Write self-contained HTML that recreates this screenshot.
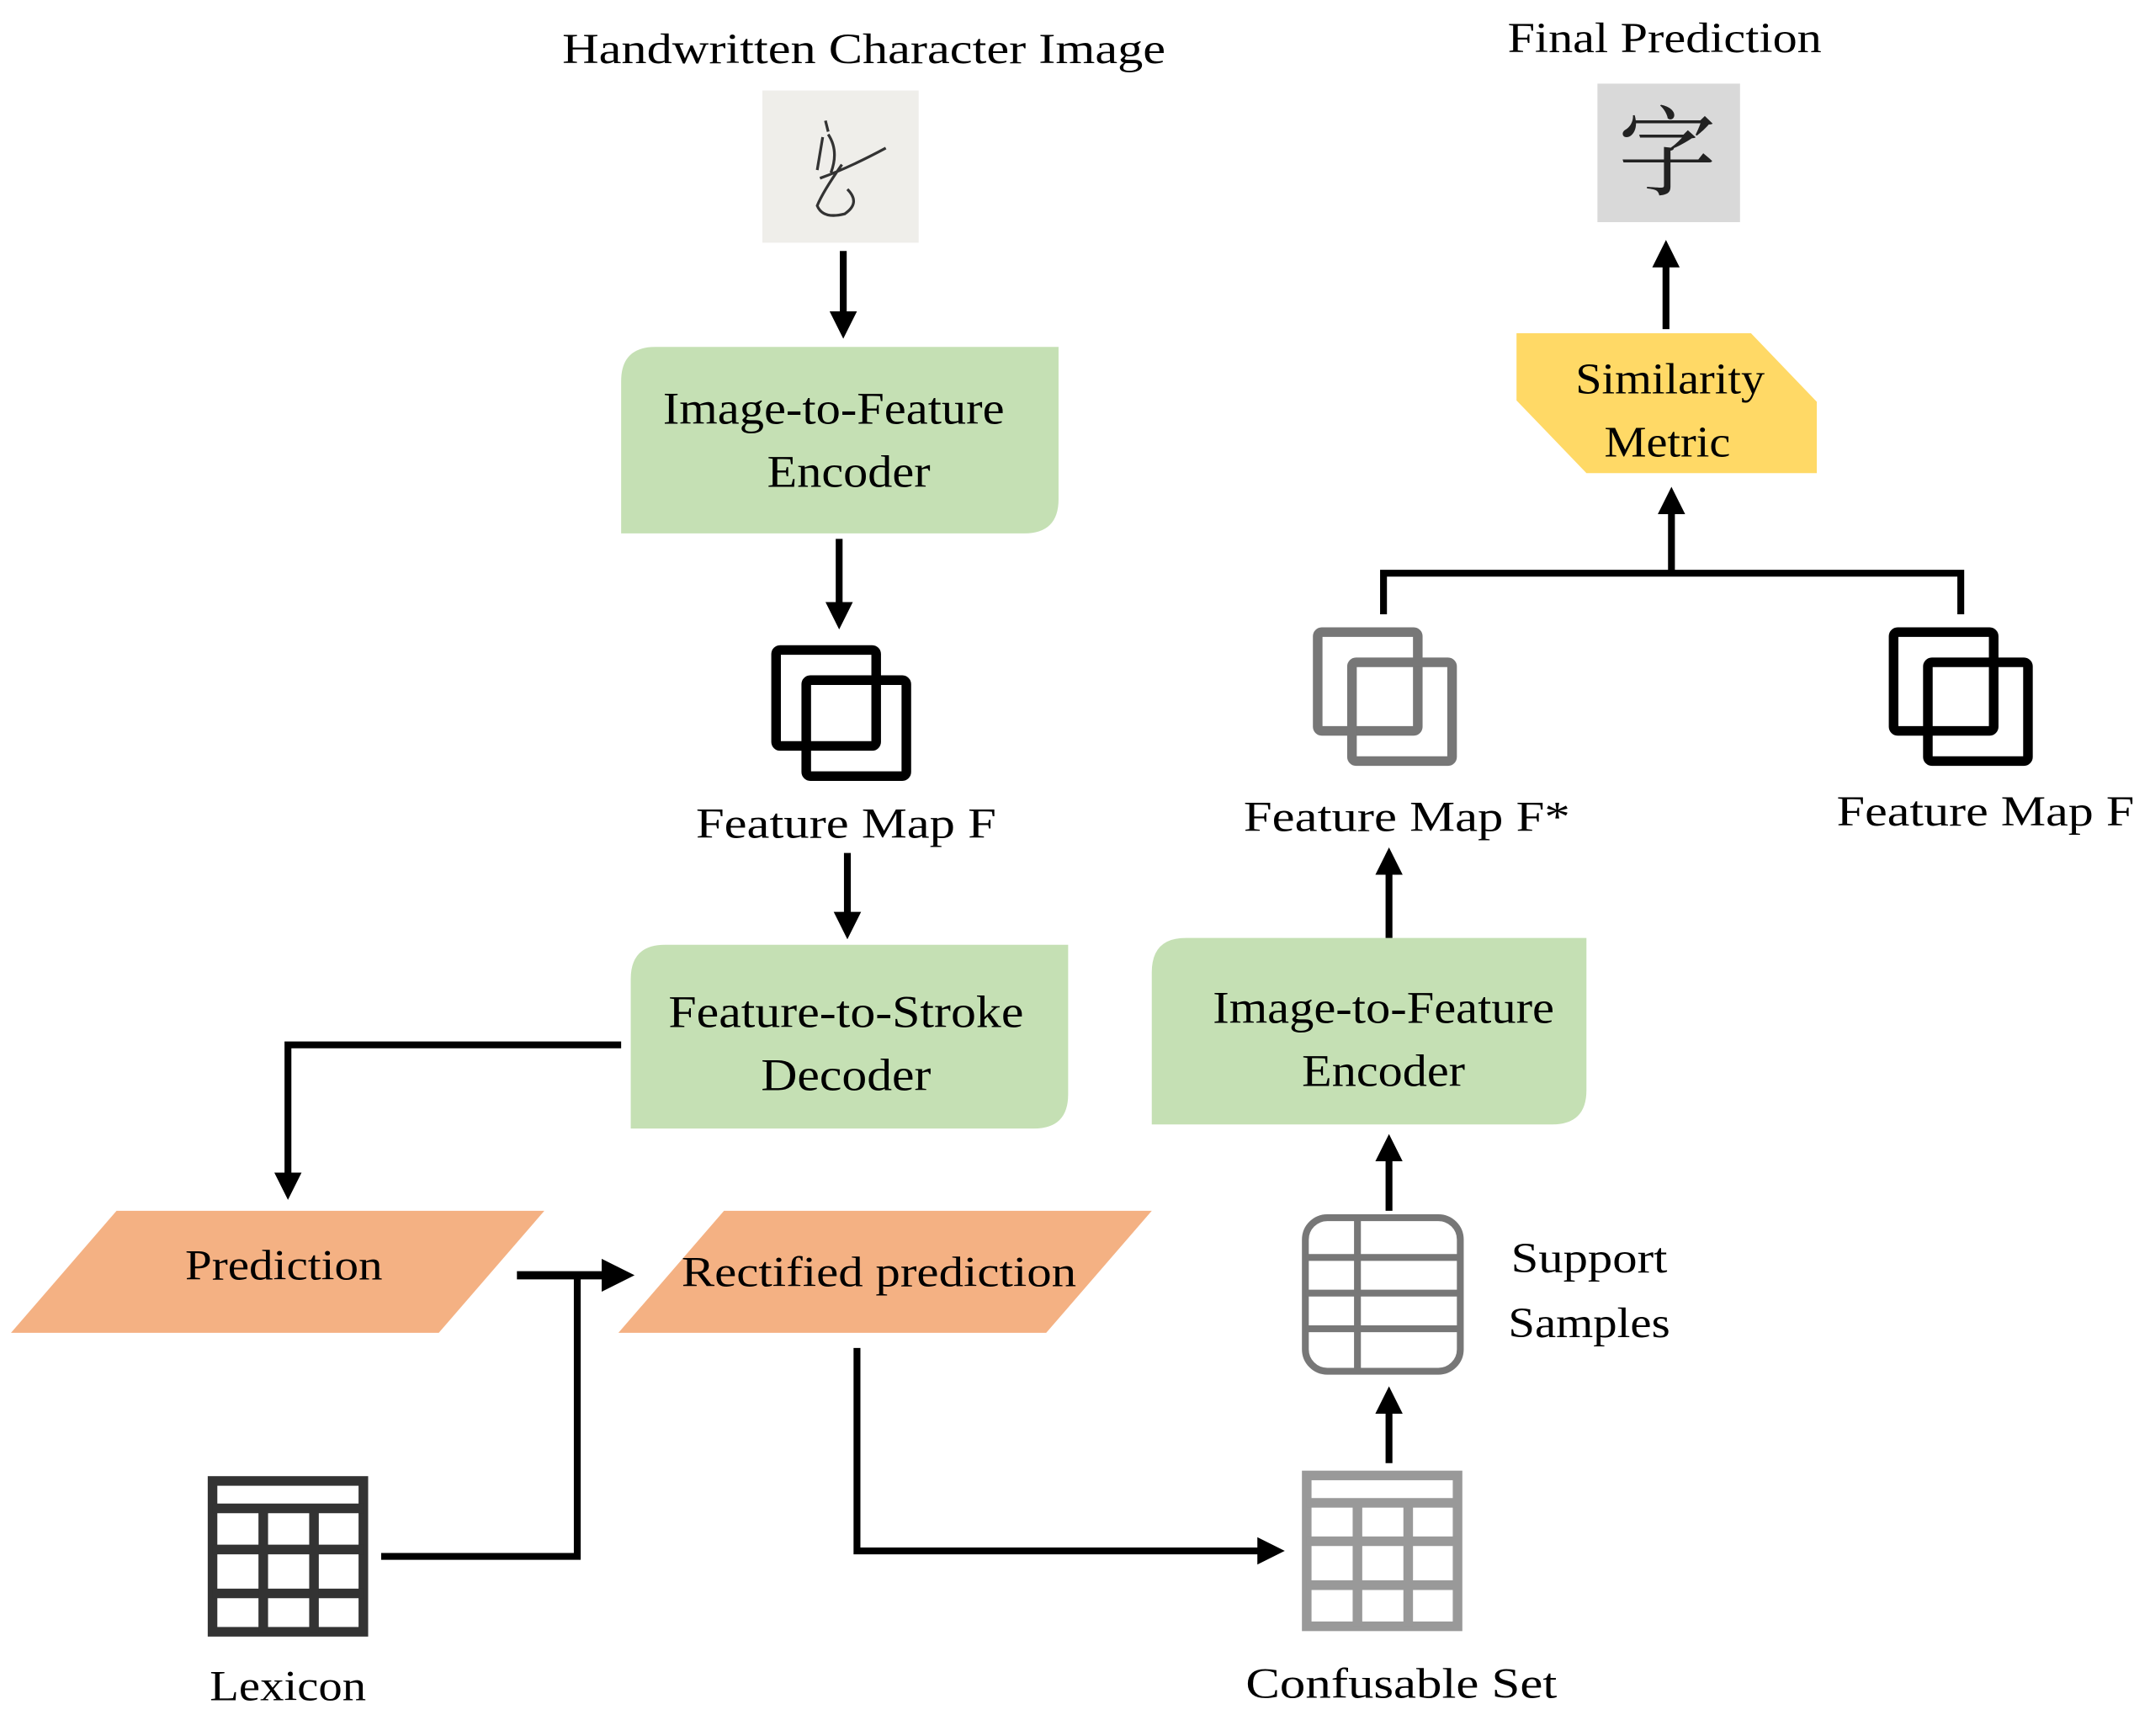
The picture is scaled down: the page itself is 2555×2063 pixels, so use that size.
<!DOCTYPE html>
<html><head><meta charset="utf-8">
<style>
html,body{margin:0;padding:0;background:#fff;}
svg{display:block;}
text{font-family:"Liberation Serif","Noto Serif CJK SC",serif;fill:#000;}
</style></head>
<body>
<svg width="2555" height="2063" viewBox="0 0 1568 1266" preserveAspectRatio="none" xmlns="http://www.w3.org/2000/svg">
<defs>
<marker id="ah" markerWidth="4" markerHeight="4" refX="2.2" refY="2" orient="auto" markerUnits="strokeWidth">
<path d="M0,0 L4,2 L0,4 z" fill="#000"/></marker>
</defs>
<rect width="1568" height="1266" fill="#fff"/>

<text x="630" y="46" font-size="31" text-anchor="middle" textLength="440" lengthAdjust="spacingAndGlyphs">Handwritten  Character  Image</text>
<rect x="556" y="66" width="114" height="111" fill="#efeeea"/>
<path d="M602,88 L604,96 M600,100 L596,124 M604,98 Q612,110 606,126 M598,130 Q620,122 646,108 M614,120 Q600,140 596,150 Q600,160 616,156 Q628,148 618,138" stroke="#333" stroke-width="2" fill="none"/>
<line x1="615" y1="183" x2="615" y2="238" stroke="#000" stroke-width="5" marker-end="url(#ah)"/>

<path d="M478,253 H772 V364 Q772,389 747,389 H453 V278 Q453,253 478,253 Z" fill="#c5e0b4"/>
<text x="608" y="309" font-size="33" text-anchor="middle" textLength="249" lengthAdjust="spacingAndGlyphs">Image-to-Feature</text>
<text x="619" y="355" font-size="33" text-anchor="middle" textLength="119" lengthAdjust="spacingAndGlyphs">Encoder</text>
<line x1="612" y1="393" x2="612" y2="450" stroke="#000" stroke-width="5" marker-end="url(#ah)"/>

<rect x="566" y="474" width="73" height="70" rx="3" fill="none" stroke="#000" stroke-width="7"/>
<rect x="588" y="496" width="73" height="70" rx="3" fill="none" stroke="#000" stroke-width="7"/>
<text x="617" y="611" font-size="31" text-anchor="middle" textLength="219" lengthAdjust="spacingAndGlyphs">Feature  Map F</text>
<line x1="618" y1="622" x2="618" y2="676" stroke="#000" stroke-width="5" marker-end="url(#ah)"/>

<path d="M485,689 H779 V798 Q779,823 754,823 H460 V714 Q460,689 485,689 Z" fill="#c5e0b4"/>
<text x="617" y="749" font-size="33" text-anchor="middle" textLength="259" lengthAdjust="spacingAndGlyphs">Feature-to-Stroke</text>
<text x="617" y="795" font-size="33" text-anchor="middle" textLength="124" lengthAdjust="spacingAndGlyphs">Decoder</text>

<polyline points="453,762 210,762 210,866" fill="none" stroke="#000" stroke-width="5" marker-end="url(#ah)"/>

<polygon points="85,883 397,883 320,972 8,972" fill="#f4b183"/>
<text x="207" y="933" font-size="31" text-anchor="middle" textLength="144" lengthAdjust="spacingAndGlyphs">Prediction</text>
<polygon points="528,883 840,883 763,972 451,972" fill="#f4b183"/>
<text x="641" y="938" font-size="31" text-anchor="middle" textLength="288" lengthAdjust="spacingAndGlyphs">Rectified  prediction</text>

<line x1="377" y1="930" x2="452" y2="930" stroke="#000" stroke-width="6" marker-end="url(#ah)"/>
<polyline points="278,1135 421,1135 421,930" fill="none" stroke="#000" stroke-width="5"/>

<g fill="none" stroke="#333" stroke-width="7">
<rect x="155" y="1080" width="110" height="110"/>
<line x1="155" y1="1100" x2="265" y2="1100"/>
<line x1="155" y1="1130" x2="265" y2="1130"/>
<line x1="155" y1="1162" x2="265" y2="1162"/>
<line x1="192" y1="1100" x2="192" y2="1190"/>
<line x1="229" y1="1100" x2="229" y2="1190"/>
</g>
<text x="210" y="1240" font-size="31" text-anchor="middle" textLength="114" lengthAdjust="spacingAndGlyphs">Lexicon</text>

<polyline points="625,983 625,1131 928,1131" fill="none" stroke="#000" stroke-width="5" marker-end="url(#ah)"/>

<g fill="none" stroke="#999" stroke-width="7">
<rect x="953" y="1076" width="110" height="110"/>
<line x1="953" y1="1096" x2="1063" y2="1096"/>
<line x1="953" y1="1124" x2="1063" y2="1124"/>
<line x1="953" y1="1156" x2="1063" y2="1156"/>
<line x1="990" y1="1096" x2="990" y2="1186"/>
<line x1="1027" y1="1096" x2="1027" y2="1186"/>
</g>
<text x="1022" y="1238" font-size="31" text-anchor="middle" textLength="227" lengthAdjust="spacingAndGlyphs">Confusable  Set</text>
<line x1="1013" y1="1067" x2="1013" y2="1020" stroke="#000" stroke-width="5" marker-end="url(#ah)"/>

<g fill="none" stroke="#777" stroke-width="5">
<rect x="952" y="888" width="113" height="112" rx="16"/>
<line x1="952" y1="917" x2="1065" y2="917"/>
<line x1="952" y1="943" x2="1065" y2="943"/>
<line x1="952" y1="969" x2="1065" y2="969"/>
<line x1="990" y1="888" x2="990" y2="1000"/>
</g>
<text x="1159" y="928" font-size="31" text-anchor="middle" textLength="114" lengthAdjust="spacingAndGlyphs">Support</text>
<text x="1159" y="975" font-size="31" text-anchor="middle" textLength="118" lengthAdjust="spacingAndGlyphs">Samples</text>
<line x1="1013" y1="883" x2="1013" y2="836" stroke="#000" stroke-width="5" marker-end="url(#ah)"/>

<path d="M865,684 H1157 V795 Q1157,820 1132,820 H840 V709 Q840,684 865,684 Z" fill="#c5e0b4"/>
<text x="1009" y="746" font-size="33" text-anchor="middle" textLength="249" lengthAdjust="spacingAndGlyphs">Image-to-Feature</text>
<text x="1009" y="792" font-size="33" text-anchor="middle" textLength="119" lengthAdjust="spacingAndGlyphs">Encoder</text>
<line x1="1013" y1="684" x2="1013" y2="627" stroke="#000" stroke-width="5" marker-end="url(#ah)"/>

<text x="1026" y="606" font-size="31" text-anchor="middle" textLength="238" lengthAdjust="spacingAndGlyphs">Feature  Map F*</text>
<rect x="961" y="461" width="73" height="72" rx="3" fill="none" stroke="#777" stroke-width="7"/>
<rect x="986" y="483" width="73" height="72" rx="3" fill="none" stroke="#777" stroke-width="7"/>
<rect x="1381" y="461" width="73" height="72" rx="3" fill="none" stroke="#000" stroke-width="7"/>
<rect x="1406" y="483" width="73" height="72" rx="3" fill="none" stroke="#000" stroke-width="7"/>
<text x="1448" y="602" font-size="31" text-anchor="middle" textLength="217" lengthAdjust="spacingAndGlyphs">Feature  Map F</text>

<polyline points="1009,448 1009,418 1430,418 1430,448" fill="none" stroke="#000" stroke-width="5"/>
<line x1="1219" y1="418" x2="1219" y2="364" stroke="#000" stroke-width="5" marker-end="url(#ah)"/>

<polygon points="1106,243 1277,243 1325,293 1325,345 1157,345 1106,292" fill="#ffd966"/>
<text x="1218" y="287" font-size="32" text-anchor="middle" textLength="138" lengthAdjust="spacingAndGlyphs">Similarity</text>
<text x="1216" y="333" font-size="32" text-anchor="middle" textLength="92" lengthAdjust="spacingAndGlyphs">Metric</text>
<line x1="1215" y1="240" x2="1215" y2="184" stroke="#000" stroke-width="5" marker-end="url(#ah)"/>

<rect x="1165" y="61" width="104" height="101" fill="#d9d9d9"/>
<text x="1216" y="137" font-size="72" text-anchor="middle" style="font-family:'Noto Serif CJK SC','Noto Sans CJK SC',serif;fill:#222">字</text>
<text x="1214" y="38" font-size="31" text-anchor="middle" textLength="229" lengthAdjust="spacingAndGlyphs">Final  Prediction</text>
</svg>
</body></html>
